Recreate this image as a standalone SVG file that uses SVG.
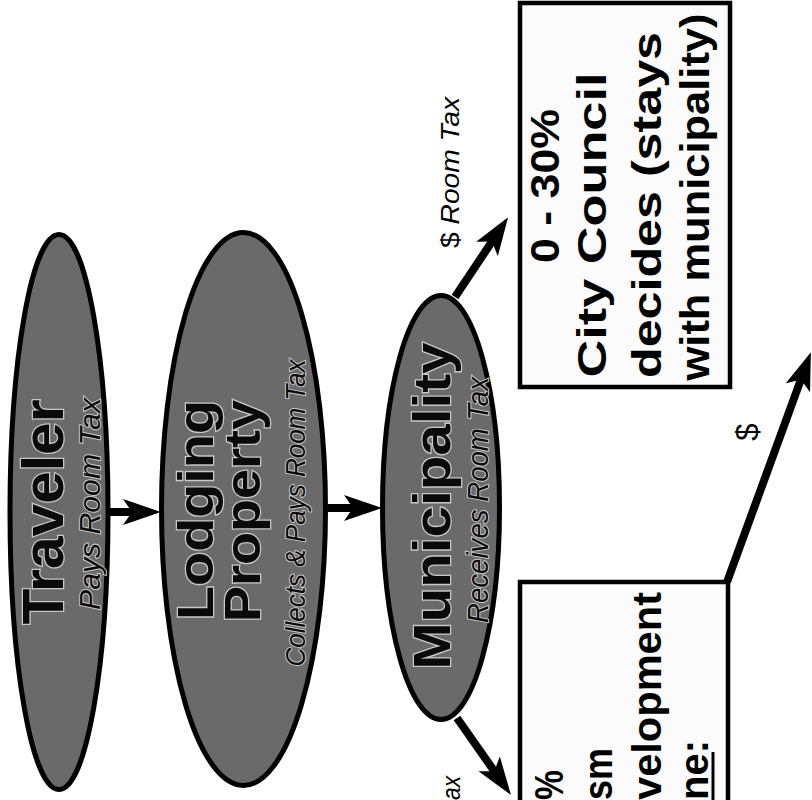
<svg xmlns="http://www.w3.org/2000/svg" width="812" height="800" viewBox="0 0 812 800">
<style>
.oval{fill:#6a6a6a;stroke:#000;stroke-width:5}
.box{fill:#fbfbfb;stroke:#000;stroke-width:4.5}
.conn{stroke:#000;stroke-width:8;fill:none}
.big{font-family:"Liberation Sans",Arial,sans-serif;font-weight:bold;fill:#0a0a0a;stroke:#c8c8c8;stroke-width:2.5;paint-order:stroke}
.sub{font-family:"Liberation Sans",Arial,sans-serif;font-style:italic;fill:#0a0a0a;stroke:#c8c8c8;stroke-width:2;paint-order:stroke}
.bx{font-family:"Liberation Sans",Arial,sans-serif;font-weight:bold;font-size:40px;fill:#000}
.lbl{font-family:"Liberation Sans",Arial,sans-serif;fill:#000}
</style>
<defs>
<marker id="ah" markerUnits="userSpaceOnUse" markerWidth="40" markerHeight="27" refX="18" refY="13" orient="auto">
<path d="M0,0 L38,13 L0,26 L9,13 z" fill="#000"/>
</marker>
</defs>
<rect width="812" height="800" fill="#fff"/>
<g id="connectors">
<line class="conn" x1="110" y1="512" x2="141" y2="512" marker-end="url(#ah)"/>
<line class="conn" x1="328" y1="508" x2="362" y2="508" marker-end="url(#ah)"/>
<line class="conn" x1="455" y1="297" x2="497" y2="234" marker-end="url(#ah)"/>
<line class="conn" x1="457" y1="718" x2="499.5" y2="778.6" marker-end="url(#ah)"/>
<line class="conn" x1="727" y1="582" x2="804" y2="371" marker-end="url(#ah)"/>
<text class="lbl" font-size="26" transform="translate(459,248) rotate(-90)" textLength="151" lengthAdjust="spacingAndGlyphs">$ <tspan font-style="italic">Room Tax</tspan></text>
<text class="lbl" font-size="31" transform="translate(758,432) rotate(-90)" text-anchor="middle">$</text>
<text class="lbl" font-size="26" font-style="italic" transform="translate(460,800) rotate(-90)" textLength="24" lengthAdjust="spacingAndGlyphs">ax</text>
</g>
<g id="traveler">
<ellipse class="oval" cx="59" cy="512" rx="49" ry="277.5"/>
<text class="big" font-size="58" transform="translate(63,512) rotate(-90)" text-anchor="middle" textLength="225" lengthAdjust="spacingAndGlyphs">Traveler</text>
<text class="sub" font-size="30" transform="translate(100,504) rotate(-90)" text-anchor="middle" textLength="212" lengthAdjust="spacingAndGlyphs">Pays Room Tax</text>
</g>
<g id="lodging">
<ellipse class="oval" cx="243.5" cy="509" rx="82" ry="276.5"/>
<text class="big" font-size="50" transform="translate(213,510) rotate(-90)" text-anchor="middle" textLength="220" lengthAdjust="spacingAndGlyphs">Lodging</text>
<text class="big" font-size="50" transform="translate(260,511) rotate(-90)" text-anchor="middle" textLength="222" lengthAdjust="spacingAndGlyphs">Property</text>
<text class="sub" font-size="27" transform="translate(305,513) rotate(-90)" text-anchor="middle" textLength="307" lengthAdjust="spacingAndGlyphs">Collects &amp; Pays Room Tax</text>
</g>
<g id="municipality">
<ellipse class="oval" cx="441" cy="507.5" rx="58.5" ry="212"/>
<text class="big" font-size="52" transform="translate(450,506) rotate(-90)" text-anchor="middle" textLength="327" lengthAdjust="spacingAndGlyphs">Municipality</text>
<text class="sub" font-size="30" transform="translate(488,500) rotate(-90)" text-anchor="middle" textLength="246" lengthAdjust="spacingAndGlyphs">Receives Room Tax</text>
</g>
<g id="city-council">
<rect class="box" x="520" y="3" width="210" height="384"/>
<text class="bx" transform="translate(559,186) rotate(-90)" text-anchor="middle" textLength="154" lengthAdjust="spacingAndGlyphs">0 - 30%</text>
<text class="bx" transform="translate(606,225) rotate(-90)" text-anchor="middle" textLength="305" lengthAdjust="spacingAndGlyphs">City Council</text>
<text class="bx" transform="translate(661,205) rotate(-90)" text-anchor="middle" textLength="346" lengthAdjust="spacingAndGlyphs">decides (stays</text>
<text class="bx" transform="translate(709,197) rotate(-90)" text-anchor="middle" textLength="367" lengthAdjust="spacingAndGlyphs">with municipality)</text>
</g>
<g id="tourism-zone">
<rect class="box" x="520" y="582" width="208" height="260"/>
<text class="bx" transform="translate(563,800) rotate(-90)" textLength="30" lengthAdjust="spacingAndGlyphs">%</text>
<text class="bx" transform="translate(612,800) rotate(-90)" textLength="52" lengthAdjust="spacingAndGlyphs">sm</text>
<text class="bx" transform="translate(661,800) rotate(-90)" textLength="208" lengthAdjust="spacingAndGlyphs">velopment</text>
<text class="bx" transform="translate(708,800) rotate(-90)" textLength="60" lengthAdjust="spacingAndGlyphs">ne:</text>
<line x1="713" y1="752" x2="713" y2="800" stroke="#000" stroke-width="3"/>
</g>
</svg>
